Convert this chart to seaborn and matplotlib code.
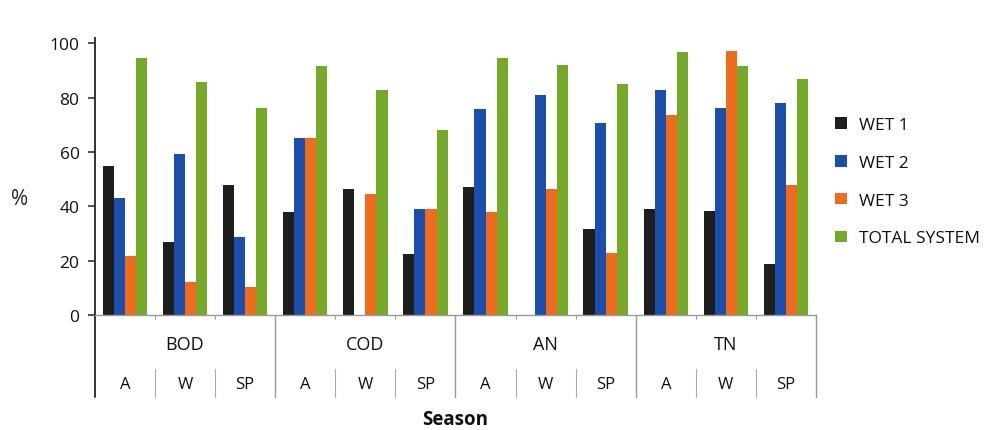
import pandas as pd
import matplotlib.pyplot as plt
import seaborn as sns
import numpy as np
from matplotlib.transforms import blended_transform_factory
from matplotlib.patches import Patch

# data
parameters = ['BOD', 'COD', 'AN', 'TN']
seasons = ['A', 'W', 'SP']
series = ['WET 1', 'WET 2', 'WET 3', 'TOTAL SYSTEM']

wet1 = [54.8, 26.9, 47.7, 37.7, 46.3, 22.3, 46.9, 0.0, 31.8, 38.9, 38.3, 18.7]
wet2 = [42.9, 59.1, 28.7, 65.2, 0.0, 38.9, 75.7, 80.9, 70.8, 82.7, 76.0, 78.1]
wet3 = [21.7, 12.1, 10.1, 65.2, 44.4, 38.9, 37.9, 46.5, 22.7, 73.6, 97.1, 47.7]
total = [94.5, 85.9, 76.0, 91.6, 82.7, 68.1, 94.5, 92.0, 84.9, 96.8, 91.6, 86.7]

colors = ['#1e1e1e', '#1b4fab', '#ef6c1f', '#77a928']

# long table for seaborn
cats = [p + '-' + s for p in parameters for s in seasons]
rows = []
for name, vals in zip(series, [wet1, wet2, wet3, total]):
    for c, v in zip(cats, vals):
        rows.append({'cat': c, 'value': v, 'series': name})
df = pd.DataFrame(rows)

sns.set_style('white')
plt.rcParams['font.family'] = ['Open Sans', 'DejaVu Sans']
plt.rcParams['text.color'] = '#111111'
plt.rcParams['ytick.labelcolor'] = '#111111'

fig = plt.figure(figsize=(9.88, 4.31), dpi=100)
ax = fig.add_axes([0.096, 0.267, 0.73, 0.643])

sns.barplot(data=df, x='cat', y='value', hue='series', palette=colors,
            order=cats, hue_order=series, width=0.74, saturation=1,
            linewidth=0, ax=ax, legend=False)

ax.set_ylim(0, 102)
ax.set_xlim(-0.5, len(cats) - 0.5)
ax.set_yticks([0, 20, 40, 60, 80, 100])
ax.tick_params(axis='y', length=5, width=1.2, color='#333333', labelsize=12.5,
               direction='out', left=True, pad=6)
ax.set_xticks(np.arange(len(cats)) + 0.5)
ax.set_xticklabels([])
ax.tick_params(axis='x', length=3, width=0.8, color='#999999', bottom=True)
ax.set_xlabel('')
ax.set_ylabel('%', rotation=0, fontsize=15, va='center')
ax.yaxis.set_label_coords(-0.105, 0.42)

sns.despine(ax=ax)
ax.spines['left'].set_color('#333333')
ax.spines['left'].set_linewidth(1.4)
ax.spines['bottom'].set_color('#999999')
ax.spines['bottom'].set_linewidth(1.0)

# multi-level category labels under the axis
tr = blended_transform_factory(ax.transData, ax.transAxes)
for i, p in enumerate(parameters):
    ax.text(i * 3 + 1, -0.105, p, transform=tr, ha='center', va='center', fontsize=13)
    for j, s in enumerate(seasons):
        ax.text(i * 3 + j, -0.25, s, transform=tr, ha='center', va='center', fontsize=12)
    for j in [1, 2]:
        xb = i * 3 + j - 0.5
        ax.plot([xb, xb], [-0.195, -0.296], transform=tr, color='#aaaaaa',
                lw=0.8, clip_on=False)
for i in range(len(parameters) + 1):
    xb = i * 3 - 0.5
    ax.plot([xb, xb], [0, -0.296], transform=tr, color='#999999' if i else '#333333',
            lw=1.0 if i else 1.4, clip_on=False)

ax.text(0.5, -0.375, 'Season', transform=ax.transAxes, ha='center', va='center',
        fontsize=13.5, fontweight='bold')

handles = [Patch(facecolor=c, edgecolor='none') for c in colors]
ax.legend(handles, series, loc='center left', bbox_to_anchor=(1.01, 0.48),
          frameon=False, fontsize=12.5, handlelength=0.65, handleheight=0.65,
          labelspacing=1.25, handletextpad=0.7, borderaxespad=0.3)

fig.savefig('out.png', dpi=100)
